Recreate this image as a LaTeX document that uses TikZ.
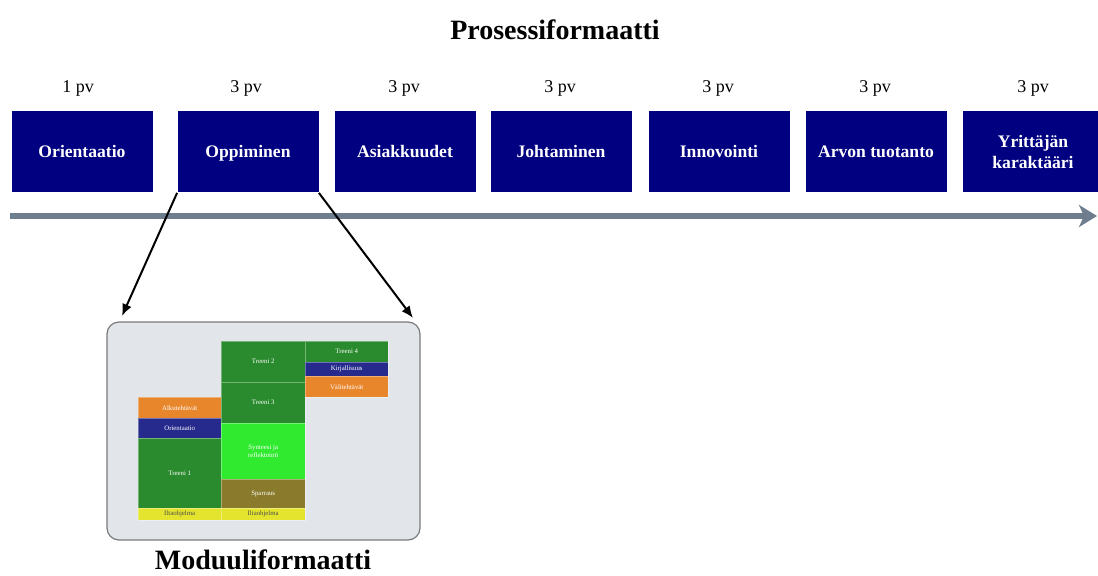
\documentclass[tikz,border=0pt]{standalone}
\usepackage{fontspec}
\setmainfont{Liberation Serif}
\usetikzlibrary{arrows.meta}
\definecolor{phasebg}{HTML}{000080}
\definecolor{tlgray}{HTML}{6E7E8E}
\definecolor{modbg}{HTML}{E2E5EA}
\definecolor{modline}{HTML}{7A7A7A}
\definecolor{mgreen}{HTML}{2A8A2E}
\definecolor{mlime}{HTML}{2FEA2F}
\definecolor{molive}{HTML}{8A7B2C}
\definecolor{morange}{HTML}{E8862C}
\definecolor{myellow}{HTML}{E4E42E}
\definecolor{mblue}{HTML}{262A8C}
\tikzset{
  phase/.style={fill=phasebg, text=white, font=\bfseries\fontsize{8.8}{10.5}\selectfont,
    minimum width=70.5pt, minimum height=40.5pt, inner sep=0pt, align=center,
    text height=1.6ex, text depth=0.3ex},
  days/.style={font=\fontsize{9}{11}\selectfont},
  blk/.style={anchor=north west, text=white, inner sep=0pt, align=center,
    font=\fontsize{3.4}{4}\selectfont, draw=white, draw opacity=0.35, line width=0.2pt},
  yblk/.style={blk, fill=myellow, text=black!70},
}
\begin{document}
\begin{tikzpicture}[x=0.5pt,y=-0.5pt]
        \useasboundingbox (0,0) rectangle (1098,576);
        \node[font=\bfseries\fontsize{14}{17}\selectfont] at (555,30) (title) {Prosessiformaatti};
        % phases
        \node[days] at ( 78,88) (d1) {1 pv};
        \node[days] at (246,88) (d2) {3 pv};
        \node[days] at (404,88) (d3) {3 pv};
        \node[days] at (560,88) (d4) {3 pv};
        \node[days] at (718,88) (d5) {3 pv};
        \node[days] at (875,88) (d6) {3 pv};
        \node[days] at (1033,88) (d7) {3 pv};
        \node[phase] at ( 82,152) (ph1) {Orientaatio};
        \node[phase] at (248,152) (ph2) {Oppiminen};
        \node[phase] at (405,152) (ph3) {Asiakkuudet};
        \node[phase] at (561,152) (ph4) {Johtaminen};
        \node[phase] at (719,152) (ph5) {Innovointi};
        \node[phase] at (876,152) (ph6) {Arvon tuotanto};
        \node[phase, text height=, text depth=] at (1033,152) (ph7) {Yrittäjän\\karaktääri};
        \coordinate (tl0) at (10,216);
        \coordinate (tl1) at (1097,216);
        \draw[tlgray, line width=3pt, -{Stealth[length=9pt,width=11pt,inset=2.5pt]}] (tl0) -- (tl1);
        % module
        \node[draw=modline, fill=modbg, rounded corners=6pt, line width=0.6pt,
              minimum width=156.5pt, minimum height=109pt] at (263.5,431) (module) {};
        \coordinate (modL) at (122,316);
        \coordinate (modR) at (413,318);
        \draw[-{Latex[length=6pt,width=5pt]}, line width=1pt] (ph2.south west) -- (modL);
        \draw[-{Latex[length=6pt,width=5pt]}, line width=1pt] (ph2.south east) -- (modR);
        \node[font=\bfseries\fontsize{14}{17}\selectfont] at (263,560) (modtitle) {Moduuliformaatti};
        % column 1
        \node[blk, fill=morange, minimum width=41.5pt, minimum height=10.5pt] at (138,397) (a1) {Alkutehtävät};
        \node[blk, fill=mblue,   minimum width=41.5pt, minimum height=10pt]   at (138,418) (a2) {Orientaatio};
        \node[blk, fill=mgreen,  minimum width=41.5pt, minimum height=35pt]   at (138,438) (a3) {Treeni 1};
        \node[yblk, minimum width=41.5pt, minimum height=6pt] at (138,508) (a4) {Iltaohjelma};
        % column 2
        \node[blk, fill=mgreen,  minimum width=42pt, minimum height=20.5pt] at (221,341) (b1) {Treeni 2};
        \node[blk, fill=mgreen,  minimum width=42pt, minimum height=20.5pt] at (221,382) (b2) {Treeni 3};
        \node[blk, fill=mlime,   minimum width=42pt, minimum height=28pt]   at (221,423) (b3) {Synteesi ja\\reflektointi};
        \node[blk, fill=molive,  minimum width=42pt, minimum height=14.5pt] at (221,479) (b4) {Sparraus};
        \node[yblk, minimum width=42pt, minimum height=6pt] at (221,508) (b5) {Iltaohjelma};
        % column 3
        \node[blk, fill=mgreen,  minimum width=41.5pt, minimum height=10.5pt] at (305,341) (c1) {Treeni 4};
        \node[blk, fill=mblue,   minimum width=41.5pt, minimum height=7pt]    at (305,362) (c2) {Kirjallisuus};
        \node[blk, fill=morange, minimum width=41.5pt, minimum height=10.5pt] at (305,376) (c3) {Välitehtävät};
\end{tikzpicture}
\end{document}
